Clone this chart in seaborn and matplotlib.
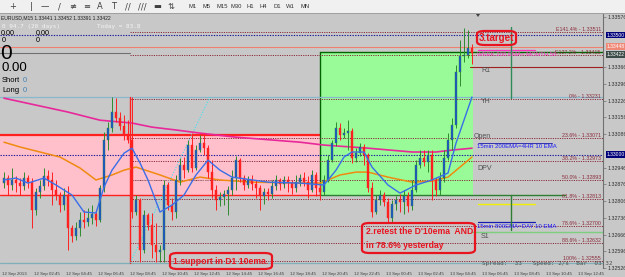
import matplotlib
matplotlib.use("Agg")
import matplotlib.pyplot as plt
import seaborn as sns
from matplotlib.patches import Rectangle, FancyBboxPatch, Polygon
from matplotlib.transforms import blended_transform_factory

# ---------------- data (EURUSD M15) ----------------
open0 = 1.32881
close = [1.32902, 1.32873, 1.32894, 1.32881, 1.32869, 1.32902, 1.32885, 1.32768, 1.32843, 1.32869,
         1.32910, 1.32894, 1.32852, 1.32831, 1.32789, 1.32831, 1.32693, 1.32660, 1.32693, 1.32726,
         1.32718, 1.32735, 1.32751, 1.32726, 1.32860, 1.33061, 1.33111, 1.33178, 1.33153, 1.33119,
         1.33086, 1.33061, 1.32760, 1.32810, 1.32601, 1.32747, 1.32706, 1.32622, 1.32593, 1.32601,
         1.32873, 1.32789, 1.32760, 1.32894, 1.32956, 1.32935, 1.33040, 1.32944, 1.33019, 1.33048,
         1.33027, 1.32927, 1.32852, 1.32810, 1.32823, 1.32835, 1.32852, 1.32902, 1.32977, 1.32902,
         1.32873, 1.32894, 1.32877, 1.32860, 1.32827, 1.32843, 1.32835, 1.32869, 1.32894, 1.32877,
         1.32894, 1.32881, 1.32860, 1.32885, 1.32902, 1.32885, 1.32852, 1.32915, 1.32860, 1.32843,
         1.32894, 1.32977, 1.33048, 1.33111, 1.33082, 1.33090, 1.33098, 1.32986, 1.33006, 1.33032,
         1.32998, 1.32860, 1.32760, 1.32810, 1.32831, 1.32802, 1.32735, 1.32793, 1.32810, 1.32802,
         1.32827, 1.32785, 1.32852, 1.32956, 1.32986, 1.32969, 1.32998, 1.32894, 1.32852, 1.32902,
         1.32986, 1.33061, 1.33124, 1.33345, 1.33412, 1.33416, 1.33445, 1.33424]
high = [1.32927, 1.32915, 1.32944, 1.32910, 1.32902, 1.32927, 1.32915, 1.32902, 1.32860, 1.32894,
        1.32944, 1.32935, 1.32927, 1.32894, 1.32843, 1.32860, 1.32869, 1.32706, 1.32718, 1.32760,
        1.32768, 1.32777, 1.32789, 1.32768, 1.32873, 1.33094, 1.33136, 1.33241, 1.33236, 1.33178,
        1.33165, 1.33144, 1.33241, 1.32831, 1.32818, 1.32768, 1.32756, 1.32756, 1.32714, 1.32622,
        1.32894, 1.32885, 1.32818, 1.32915, 1.32986, 1.32990, 1.33061, 1.33090, 1.33040, 1.33082,
        1.33090, 1.33040, 1.32977, 1.32873, 1.32843, 1.32852, 1.32869, 1.32935, 1.32994, 1.32986,
        1.32915, 1.32910, 1.32915, 1.32894, 1.32873, 1.32860, 1.32860, 1.32894, 1.32915, 1.32902,
        1.32910, 1.32910, 1.32894, 1.32915, 1.32919, 1.32927, 1.32910, 1.32935, 1.32927, 1.32877,
        1.32915, 1.32998, 1.33061, 1.33136, 1.33132, 1.33111, 1.33144, 1.33111, 1.33027, 1.33048,
        1.33044, 1.33006, 1.32885, 1.32831, 1.32852, 1.32843, 1.32818, 1.32810, 1.32827, 1.32835,
        1.32852, 1.32843, 1.32894, 1.32977, 1.33019, 1.33019, 1.33019, 1.33019, 1.32902, 1.32927,
        1.33019, 1.33090, 1.33153, 1.33374, 1.33479, 1.33529, 1.33521, 1.33462]
low = [1.32860, 1.32831, 1.32852, 1.32843, 1.32831, 1.32852, 1.32860, 1.32693, 1.32747, 1.32818,
       1.32852, 1.32869, 1.32789, 1.32810, 1.32760, 1.32768, 1.32601, 1.32634, 1.32643, 1.32660,
       1.32693, 1.32701, 1.32710, 1.32701, 1.32718, 1.32843, 1.33019, 1.33094, 1.33136, 1.33103,
       1.33061, 1.33048, 1.32735, 1.32747, 1.32551, 1.32589, 1.32685, 1.32568, 1.32551, 1.32551,
       1.32551, 1.32768, 1.32726, 1.32735, 1.32873, 1.32902, 1.32927, 1.32927, 1.32935, 1.33011,
       1.32998, 1.32902, 1.32818, 1.32768, 1.32785, 1.32789, 1.32747, 1.32831, 1.32852, 1.32885,
       1.32852, 1.32860, 1.32852, 1.32818, 1.32768, 1.32793, 1.32810, 1.32818, 1.32852, 1.32852,
       1.32860, 1.32843, 1.32835, 1.32843, 1.32869, 1.32869, 1.32818, 1.32843, 1.32827, 1.32810,
       1.32831, 1.32885, 1.32969, 1.33036, 1.33061, 1.33069, 1.33019, 1.32965, 1.32969, 1.32994,
       1.32956, 1.32843, 1.32739, 1.32751, 1.32789, 1.32785, 1.32718, 1.32714, 1.32768, 1.32760,
       1.32751, 1.32760, 1.32768, 1.32843, 1.32944, 1.32952, 1.32927, 1.32810, 1.32827, 1.32831,
       1.32885, 1.32977, 1.33019, 1.33111, 1.33287, 1.33387, 1.33404, 1.33378]

# moving averages (bar index, value)
week_ema_bar = [0, 8, 16, 24, 32, 37, 43, 49, 58, 74, 80, 91, 102, 108, 112, 117]
week_ema_val = [1.33236, 1.33207, 1.33178, 1.33144, 1.33132, 1.33115, 1.33103, 1.33090, 1.33073,
                1.33052, 1.33040, 1.33027, 1.33011, 1.33011, 1.33019, 1.33027]
ema200_bar = [0, 4, 9, 14, 19, 23, 27, 30, 33, 39, 44, 49, 54, 62, 74, 79, 81, 84, 88, 91, 96, 102,
              107, 111, 114, 117]
ema200_val = [1.33052, 1.33032, 1.33011, 1.32990, 1.32944, 1.32894, 1.32915, 1.32935, 1.32948,
              1.32915, 1.32885, 1.32906, 1.32894, 1.32885, 1.32881, 1.32881, 1.32894, 1.32915,
              1.32927, 1.32927, 1.32906, 1.32885, 1.32889, 1.32906, 1.32948, 1.32990]
ema10_bar = [0, 3, 6, 10, 13, 17, 20, 23, 25, 27, 30, 32, 34, 36, 39, 42, 45, 48, 51, 54, 57, 66,
             74, 80, 83, 85, 87, 90, 92, 96, 99, 103, 107, 111, 113, 117]
ema10_val = [1.32894, 1.32902, 1.32881, 1.32902, 1.32873, 1.32831, 1.32760, 1.32756, 1.32864,
             1.32935, 1.33006, 1.33027, 1.32965, 1.32894, 1.32760, 1.32789, 1.32831, 1.32915,
             1.32977, 1.32935, 1.32906, 1.32885, 1.32881, 1.32873, 1.32935, 1.32990, 1.33011,
             1.33011, 1.32948, 1.32873, 1.32839, 1.32873, 1.32894, 1.32923, 1.33048, 1.33241]

fib_names = ["E141.4%", "E127.2%", "0%", "23.6%", "38.2%", "50.0%", "61.8%", "78.6%", "88.6%", "100%"]
fib_prices = [1.33511, 1.33415, 1.33231, 1.33071, 1.32973, 1.32893, 1.32813, 1.32700, 1.32632, 1.32555]
ytick_vals = [1.32526, 1.32596, 1.32666, 1.32736, 1.32806, 1.32876, 1.32946, 1.33086, 1.33156,
              1.33226, 1.33296, 1.33366, 1.33576]
ytick_labels = ["1.32526", "1.32596", "1.32666", "1.32736", "1.32806", "1.32876", "1.32946",
                "1.33086", "1.33156", "1.33226", "1.33296", "1.33366", "1.33576"]
time_labels = ["12 Sep 2013", "12 Sep 02:45", "12 Sep 04:45", "12 Sep 06:45", "12 Sep 08:45",
               "12 Sep 10:45", "12 Sep 12:45", "12 Sep 14:45", "12 Sep 16:45", "12 Sep 18:45",
               "12 Sep 20:45", "12 Sep 22:45", "13 Sep 00:45", "13 Sep 02:45", "13 Sep 04:45",
               "13 Sep 06:45", "13 Sep 08:45", "13 Sep 10:45", "13 Sep 12:45"]
time_bars = [-0.5, 7.5, 15.5, 23.5, 31.5, 39.5, 47.5, 55.5, 63.5, 71.5, 79.5, 87.5, 95.5, 103.5,
             111.5, 119.5, 127.5, 135.5, 143.5]
box_prices = [1.33500, 1.33452, 1.33418, 1.33000]
box_labels = ["1.33500", "1.33448", "1.33422", "1.33000"]

# ---------------- style ----------------
sns.set_style("white")
plt.rcParams["font.family"] = ["Liberation Sans", "DejaVu Sans"]
BG = "#c8c8c8"
W, H = 625, 277

fig = plt.figure(figsize=(W / 100, H / 100), dpi=100)
fig.patch.set_facecolor(BG)
ax = fig.add_axes([0, 9 / H, 603 / W, 254 / H])
ax.set_facecolor(BG)
ax.set_xlim(-1, 149.75)
ax.set_ylim(1.32526, 1.33588)
XR = 149.75

def T(px, py, s, **kw):
    kw.setdefault("va", "center")
    fig.text(px / W, 1 - py / H, s, **kw)

# zones
ax.add_patch(Rectangle((-1, 1.32831), 80, 1.33082 - 1.32831, facecolor="#ffc0cb", edgecolor="none", zorder=0))
ax.plot([-1, 79], [1.33082, 1.33082], color="#ff2020", lw=1.6, zorder=1)
ax.plot([-1, 79], [1.32831, 1.32831], color="#ff2020", lw=1.0, zorder=1)
ax.add_patch(Rectangle((79, 1.32831), 38.2, 1.33429 - 1.32831, facecolor="#98fb98", edgecolor="none", zorder=0))
ax.plot([79, 79], [1.32831, 1.33429], color="#006400", lw=1.0, zorder=1)

# fib levels
for p in fib_prices:
    ax.plot([31.5, XR], [p, p], color="#8b2b3b", lw=0.7, ls=(0, (1.2, 1.2)), zorder=1)
for name, p in zip(fib_names, fib_prices):
    ax.text(149.2, p, f"{name} - {p:.5f}", ha="right", va="bottom", fontsize=3.8, color="#8b2b3b", zorder=5)

# horizontal levels
hl = [
    (1.33500, -1, XR, "#1a1aa0", (0, (1.2, 1.2)), 0.8),
    (1.33449, -1, XR, "#f08070", "-", 0.8),
    (1.33424, -1, 31.5, "#707070", "-", 0.8),
    (1.33429, 79, XR, "#006400", "-", 1.0),
    (1.33366, 116.5, XR, "#a02020", "-", 0.8),
    (1.33241, -1, XR, "#88b8cc", "-", 0.9),
    (1.33000, -1, XR, "#1a1aa0", (0, (1.2, 1.2)), 0.8),
    (1.32894, 31.5, 51.5, "#b08890", (0, (1.2, 1.2)), 0.8),
    (1.32831, 79, 140.3, "#2e7d32", "-", 1.0),
    (1.32793, 118.5, 132.8, "#f0f000", "-", 1.0),
    (1.32718, 118.5, 132.8, "#1a1ab0", "-", 0.9),
    (1.33048, 118.5, 137.0, "#1a1ab0", "-", 0.6),
    (1.33437, 118.5, 132.8, "#ff30c0", "-", 0.9),
    (1.32676, 117.0, XR, "#7ccf7c", "-", 1.0),
    (1.32547, -1, XR, "#7fb0b8", "-", 0.9),
]
for p, x0, x1, c, ls, lw in hl:
    ax.plot([x0, x1], [p, p], color=c, ls=ls, lw=lw, zorder=1)

ax.plot([31.5, 31.5], [1.32547, 1.33241], color="#ff2020", lw=1.0, zorder=1)
ax.plot([126.75, 126.75], [1.32685, 1.32831], color="#2e7d32", lw=1.0, zorder=1)
ax.plot([126.75, 126.75], [1.33237, 1.33533], color="#2e8b57", lw=1.0, zorder=1)
ax.plot([31.5, 51.5], [1.32547, 1.33241], color="#40e0f0", lw=0.8, ls=(0, (1, 1.5)), zorder=1)

# moving averages
sns.lineplot(x=week_ema_bar, y=week_ema_val, ax=ax, color="#e8289a", lw=1.2, estimator=None, zorder=2)
sns.lineplot(x=ema200_bar, y=ema200_val, ax=ax, color="#f08a10", lw=1.1, estimator=None, zorder=2)
sns.lineplot(x=ema10_bar, y=ema10_val, ax=ax, color="#3a6ee8", lw=1.0, estimator=None, zorder=4)

# candles
opens = [open0] + close[:-1]
xs = list(range(len(close)))
for i, o, c, h, l in zip(xs, opens, close, high, low):
    bull = c >= o
    wick = "#2e8b2e" if bull else "#ff2020"
    body = "#1c4fd8" if bull else "#ff2020"
    ax.vlines(i, l, h, color=wick, lw=0.7, zorder=3)
    ax.bar(i, max(abs(c - o), 0.000012), bottom=min(o, c), width=0.7, color=body,
           edgecolor=wick, linewidth=0.3, zorder=3)

# axes
for s in ["top", "left", "bottom"]:
    ax.spines[s].set_visible(False)
ax.spines["right"].set_color("#707070")
ax.spines["right"].set_linewidth(0.8)
ax.yaxis.tick_right()
ax.set_yticks(ytick_vals)
ax.set_yticklabels(ytick_labels, fontsize=3.8, color="#303030")
ax.tick_params(axis="y", length=2, width=0.5, color="#707070", pad=1)
ax.set_xticks(time_bars)
ax.set_xticklabels(time_labels, fontsize=3.2, color="#404040", ha="left")
ax.tick_params(axis="x", length=2, width=0.5, color="#707070", pad=1)
ax.set_xlabel("")
ax.set_ylabel("")

# right price boxes
tr = blended_transform_factory(ax.transAxes, ax.transData)
box_cols = ["#00007a", "#f08878", "#3c4c48", "#00007a"]
for p, lab, bc in zip(box_prices, box_labels, box_cols):
    ax.text(1.006, p, lab, transform=tr, fontsize=3.6, color="white", va="center", ha="left",
            bbox=dict(facecolor=bc, edgecolor="none", pad=0.5), clip_on=False, zorder=6)

# toolbar
fig.patches.append(Rectangle((0, 1 - 13 / H), 1, 13 / H, transform=fig.transFigure,
                             facecolor="#f0f0f0", edgecolor="none", zorder=0))
fig.patches.append(Rectangle((0, 1 - 14 / H), 1, 1 / H, transform=fig.transFigure,
                             facecolor="#a0a0a0", edgecolor="none", zorder=0))
icons = [(13, "+"), (31, "|"), (45, "—"), (59, "/"), (73, "≢"), (87, "≡"), (100, "A"), (114, "T"),
         (128, "//"), (142, "///"), (157, "▬"), (171, "⇅")]
for px, s in icons:
    T(px, 6.5, s, fontsize=6, color="#404040", ha="center", family=["DejaVu Sans"])
for px, s in zip([193, 207, 222, 236, 250, 263, 277, 290, 305],
                 ["M1", "M5", "M15", "M30", "H1", "H4", "D1", "W1", "MN"]):
    T(px, 6.5, s, fontsize=4.2, color="#303030", ha="center")

# left info panel
T(1, 18, "EURUSD,M15 1.33441 1.33452 1.33391 1.33422", fontsize=3.6, color="#202020", ha="left")
T(2, 26.5, "0 94.7 (20 days)", fontsize=4.3, color="#f4f4f4", ha="left", family=["DejaVu Sans Mono"])
T(97, 26.5, "Today = 83.8", fontsize=4.3, color="#f4f4f4", ha="left", family=["DejaVu Sans Mono"])
T(1, 33.5, "0.00", fontsize=5.2, color="black", ha="left")
T(36, 33.5, "0.00", fontsize=5.2, color="black", ha="left")
T(2, 40.5, "0", fontsize=5.2, color="black", ha="left")
T(36, 40.5, "0", fontsize=5.2, color="black", ha="left")
T(0, 53.5, "0", fontsize=15, color="black", ha="left")
T(1, 68, "0.00", fontsize=9.5, color="black", ha="left")
T(2, 81, "Short", fontsize=5.5, color="black", ha="left")
T(23, 81, "0", fontsize=5.5, color="#4682b4", ha="left")
T(2, 91, "Long", fontsize=5.5, color="black", ha="left")
T(23, 91, "0", fontsize=5.5, color="#4682b4", ha="left")

# chart shift marker
fig.patches.append(Polygon([[476 / W, 1 - 14 / H], [480 / W, 1 - 14 / H], [478 / W, 1 - 17 / H]],
                           closed=True, transform=fig.transFigure, facecolor="#404040", edgecolor="none"))

# object labels
T(481, 70, "R1", fontsize=5, color="#505050", ha="left")
T(481, 101, "YH", fontsize=5, color="#505050", ha="left")
T(474, 136, "Open", fontsize=5, color="#505050", ha="left")
T(477, 168, "DPV", fontsize=5, color="#505050", ha="left")
T(481, 236, "S1", fontsize=5, color="#505050", ha="left")
T(477, 147, "15min 200EMA=4HR 10 EMA", fontsize=4.3, color="#1a1aff", ha="left")
T(477, 226, "15min 800EMA=DAY 10 EMA", fontsize=4.3, color="#1a1aff", ha="left")
T(477, 54, "WEEK 200 EMA= MONTH 50", fontsize=4.3, color="#ff30c0", ha="left")
T(482, 264, "Spread:  33   Speed: 2/s  Bar  03:32", fontsize=4.3, color="#505050", ha="left",
  family=["DejaVu Sans Mono"])

# annotation boxes
RED = "#e81420"
def rbox(x0, y0, x1, y1):
    fig.patches.append(FancyBboxPatch((x0 / W, 1 - y1 / H), (x1 - x0) / W, (y1 - y0) / H,
                                      boxstyle="round,pad=0,rounding_size=0.012",
                                      transform=fig.transFigure, facecolor="none",
                                      edgecolor=RED, lw=1.6, zorder=7))
rbox(477, 31, 516, 45)
T(496.5, 38, "3.target", fontsize=7, color=RED, weight="bold", ha="center")
rbox(362, 223, 475, 253)
T(366, 231, "2.retest the D'10ema  AND", fontsize=6.2, color=RED, weight="bold", ha="left")
T(366, 245, "in 78.6% yesterday", fontsize=6.2, color=RED, weight="bold", ha="left")
rbox(170, 253, 272, 269)
T(173, 261, "1.support in D1 10ema.", fontsize=6.2, color=RED, weight="bold", ha="left")

fig.savefig("out.png", dpi=100, facecolor=BG)
